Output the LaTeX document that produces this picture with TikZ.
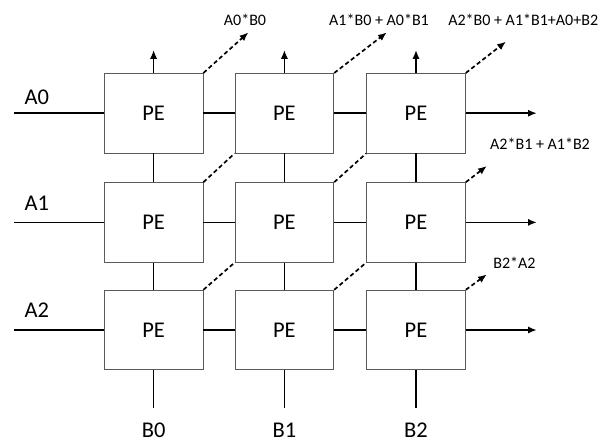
\documentclass[tikz,border=0pt]{standalone}
\usepackage{fontspec}
\setmainfont{Carlito}
\usetikzlibrary{arrows.meta,positioning}
\definecolor{boxStroke}{HTML}{5A5A5A}
\definecolor{lineMain}{HTML}{000000}
\definecolor{textMain}{HTML}{000000}

\begin{document}
\begin{tikzpicture}[
    font=\fontsize{16}{19}\selectfont,
    >={Latex[length=2.2mm,width=1.8mm]},
    peNode/.style={
        rectangle,
        draw=boxStroke, line width=0.6pt,
        fill=white,
        minimum width=2.47cm, minimum height=1.99cm,
        inner sep=0pt
    },
    portLabel/.style={text=textMain},
    sumNote/.style={font=\fontsize{11.4}{13}\selectfont, text=textMain},
    wire/.style={draw=lineMain, line width=1.2pt},
    flow/.style={->, draw=lineMain, line width=1.2pt},
    partial/.style={draw=lineMain, line width=1.2pt, dash pattern=on 3pt off 2pt},
    partialOut/.style={->, draw=lineMain, line width=1.2pt, dash pattern=on 3pt off 2pt}
]
\useasboundingbox (0,0) rectangle (15.2,-11.1);

% Layout plan: 3x3 grid of PEs, A rows enter from the left, B columns from below.
\node[peNode] (Pe00) at (3.84,-2.83) {PE};
\node[peNode] (Pe01) at (7.11,-2.83) {PE};
\node[peNode] (Pe02) at (10.40,-2.83) {PE};
\node[peNode] (Pe10) at (3.84,-5.56) {PE};
\node[peNode] (Pe11) at (7.11,-5.56) {PE};
\node[peNode] (Pe12) at (10.40,-5.56) {PE};
\node[peNode] (Pe20) at (3.84,-8.25) {PE};
\node[peNode] (Pe21) at (7.11,-8.25) {PE};
\node[peNode] (Pe22) at (10.40,-8.25) {PE};

\coordinate (InA0) at (0.36,-2.83);
\coordinate (InA1) at (0.36,-5.56);
\coordinate (InA2) at (0.36,-8.25);
\coordinate (OutA0) at (13.42,-2.83);
\coordinate (OutA1) at (13.42,-5.56);
\coordinate (OutA2) at (13.42,-8.25);
\coordinate (InB0) at (3.84,-10.19);
\coordinate (InB1) at (7.11,-10.19);
\coordinate (InB2) at (10.40,-10.19);
\coordinate (TopB0) at (3.84,-1.25);
\coordinate (TopB1) at (7.11,-1.25);
\coordinate (TopB2) at (10.40,-1.25);
\coordinate (SumA0B0) at (6.21,-0.81);
\coordinate (SumA1B0) at (9.67,-0.81);
\coordinate (SumA2B0) at (12.65,-1.04);
\coordinate (SumA2B1) at (12.17,-4.15);
\coordinate (SumB2A2) at (12.17,-6.86);

\node[portLabel] (LabelA0) at (0.92,-2.42) {A0};
\node[portLabel] (LabelA1) at (0.92,-5.08) {A1};
\node[portLabel] (LabelA2) at (0.92,-7.75) {A2};
\node[portLabel] (LabelB0) at (3.84,-10.75) {B0};
\node[portLabel] (LabelB1) at (7.11,-10.75) {B1};
\node[portLabel] (LabelB2) at (10.40,-10.75) {B2};

\node[sumNote] (NoteA0B0) at (6.125,-0.5) {A0*B0};
\node[sumNote] (NoteA1B0) at (9.475,-0.5) {A1*B0 + A0*B1};
\node[sumNote] (NoteA2B0) at (13.08,-0.5) {A2*B0 + A1*B1+A0+B2};
\node[sumNote] (NoteA2B1) at (13.5,-3.6) {A2*B1 + A1*B2};
\node[sumNote] (NoteB2A2) at (12.86,-6.57) {B2*A2};

% A rows
\draw[wire] (InA0) -- (Pe00.west);
\draw[wire] (Pe00.east) -- (Pe01.west);
\draw[wire] (Pe01.east) -- (Pe02.west);
\draw[flow] (Pe02.east) -- (OutA0);
\draw[wire] (InA1) -- (Pe10.west);
\draw[wire] (Pe10.east) -- (Pe11.west);
\draw[wire] (Pe11.east) -- (Pe12.west);
\draw[flow] (Pe12.east) -- (OutA1);
\draw[wire] (InA2) -- (Pe20.west);
\draw[wire] (Pe20.east) -- (Pe21.west);
\draw[wire] (Pe21.east) -- (Pe22.west);
\draw[flow] (Pe22.east) -- (OutA2);

% B columns
\draw[wire] (InB0) -- (Pe20.south);
\draw[wire] (Pe20.north) -- (Pe10.south);
\draw[wire] (Pe10.north) -- (Pe00.south);
\draw[flow] (Pe00.north) -- (TopB0);
\draw[wire] (InB1) -- (Pe21.south);
\draw[wire] (Pe21.north) -- (Pe11.south);
\draw[wire] (Pe11.north) -- (Pe01.south);
\draw[flow] (Pe01.north) -- (TopB1);
\draw[wire] (InB2) -- (Pe22.south);
\draw[wire] (Pe22.north) -- (Pe12.south);
\draw[wire] (Pe12.north) -- (Pe02.south);
\draw[flow] (Pe02.north) -- (TopB2);

% partial sums
\draw[partial] (Pe10.north east) -- (Pe01.south west);
\draw[partial] (Pe11.north east) -- (Pe02.south west);
\draw[partial] (Pe20.north east) -- (Pe11.south west);
\draw[partial] (Pe21.north east) -- (Pe12.south west);
\draw[partialOut] (Pe00.north east) -- (SumA0B0);
\draw[partialOut] (Pe01.north east) -- (SumA1B0);
\draw[partialOut] (Pe02.north east) -- (SumA2B0);
\draw[partialOut] (Pe12.north east) -- (SumA2B1);
\draw[partialOut] (Pe22.north east) -- (SumB2A2);

\end{tikzpicture}
\end{document}
